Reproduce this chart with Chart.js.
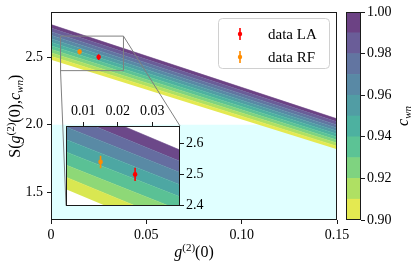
<!DOCTYPE html>
<html>
<head>
<meta charset="utf-8">
<script src="https://cdn.jsdelivr.net/npm/chart.js@4.4.1/dist/chart.umd.min.js"></script>
<style>
  html, body { margin: 0; padding: 0; background: #fff; }
  #wrap { position: relative; width: 415px; height: 267px; overflow: hidden; }
  canvas { position: absolute; }
</style>
</head>
<body>
<div id="wrap">
  <canvas id="main" width="415" height="267" style="left:0;top:0"></canvas>
  <canvas id="inset" width="160" height="116" style="left:56px;top:100px"></canvas>
  <canvas id="cbar" width="70" height="267" style="left:345px;top:0"></canvas>
</div>
<script>
  'use strict';

  // contour levels of c_wn and the S value of each level line at both ends of g2
  var cLevels = [0.90, 0.91, 0.92, 0.93, 0.94, 0.95, 0.96, 0.97, 0.98, 0.99, 1.00];
  var gEnds = [0, 0.15];
  var sAtStart = [2.480, 2.506, 2.532, 2.558, 2.584, 2.610, 2.636, 2.662, 2.688, 2.714, 2.740];
  var sAtEnd = [1.820, 1.842, 1.865, 1.887, 1.910, 1.932, 1.954, 1.977, 1.999, 2.022, 2.044];

  // inset contour lines (coarser levels), S at both ends of the inset g2 range
  var insetGEnds = [0.005, 0.038];
  var insetSStart = [2.452, 2.491, 2.530, 2.572, 2.612, 2.652, 2.692, 2.732];
  var insetSEnd = [2.300, 2.340, 2.385, 2.428, 2.467, 2.506, 2.542, 2.578];

  // measured points
  var pointLabels = ['data LA', 'data RF'];
  var pointG = [0.0250, 0.0150];
  var pointS = [2.500, 2.540];
  var pointErr = [0.021, 0.020];

  // classical bound region
  var boundS = 2.0;

  // zoom window
  var zoomG = [0.005, 0.038];
  var zoomS = [2.400, 2.655];

  var xTicks = [0, 0.05, 0.10, 0.15];
  var yTicks = [1.5, 2.0, 2.5];
  var insetXTicks = [0.01, 0.02, 0.03];
  var insetYTicks = [2.4, 2.5, 2.6];
  var cbarTicks = [0.90, 0.92, 0.94, 0.96, 0.98, 1.00];

  // lowest level first (yellow) up to the highest (purple)
  var bandColors = ['#e4e951', '#afe063', '#7fd380', '#5cc395', '#4db1a0',
                    '#519da4', '#5989a5', '#6275a1', '#6a5d98', '#6c4284'];
  var insetColors = ['#d9e751', '#8ed877', '#5ac195', '#4da7a3', '#598aa5', '#656da0', '#6c4889'];
  var pointColors = ['#ff0000', '#ff8c00'];

  var FONT = '"Liberation Serif", "DejaVu Serif", serif';
  var INSET_LEFT = 56, INSET_TOP = 100;

  function fixedTicks(list) {
    return function(scale) {
      scale.ticks = list.map(function(v) { return { value: v }; });
    };
  }

  function mathFont(p, size) {
    return (p.it ? 'italic ' : '') + Math.round(size * (p.sc || 1)) + 'px ' + FONT;
  }

  function drawMath(ctx, parts, x, y, rot, size) {
    var widths = [];
    var total = 0;
    ctx.save();
    ctx.translate(x, y);
    if (rot) ctx.rotate(rot);
    ctx.fillStyle = '#000';
    ctx.textBaseline = 'alphabetic';
    parts.forEach(function(p) {
      ctx.font = mathFont(p, size);
      var w = ctx.measureText(p.t).width;
      widths.push(w);
      total += w;
    });
    var cx = -total / 2;
    parts.forEach(function(p, i) {
      ctx.font = mathFont(p, size);
      ctx.fillText(p.t, cx, (p.dy || 0) * size);
      cx += widths[i];
    });
    ctx.restore();
  }

  var framePlugin = {
    id: 'frame',
    afterDatasetsDraw: function(chart) {
      var a = chart.chartArea;
      var ctx = chart.ctx;
      var l = Math.round(a.left) + 0.5, t = Math.round(a.top) + 0.5;
      var r = Math.round(a.right) - 0.5, b = Math.round(a.bottom) - 0.5;
      ctx.save();
      ctx.strokeStyle = '#1a1a1a';
      ctx.lineWidth = 1;
      ctx.strokeRect(l, t, r - l, b - t);
      ctx.restore();
    }
  };

  function axisStyle(extra) {
    var base = {
      type: 'linear',
      border: { display: false },
      grid: { drawOnChartArea: false, drawTicks: true, tickLength: 4, color: '#1a1a1a', lineWidth: 1 },
      ticks: { color: '#000', font: { family: FONT, size: 14 }, padding: 3, autoSkip: false, maxRotation: 0 }
    };
    Object.keys(extra).forEach(function(k) {
      if (k === 'ticks') {
        Object.keys(extra.ticks).forEach(function(t) { base.ticks[t] = extra.ticks[t]; });
      } else {
        base[k] = extra[k];
      }
    });
    return base;
  }

  function levelLines(gs, startVals, endVals, colors) {
    var sets = [];
    for (var i = 0; i < startVals.length; i++) {
      var col = i === 0 ? 'rgba(0,0,0,0)' : colors[i - 1];
      sets.push({
        data: [{ x: gs[0], y: startVals[i] }, { x: gs[1], y: endVals[i] }],
        borderColor: col,
        borderWidth: i === 0 ? 0 : 0.6,
        backgroundColor: col,
        fill: i === 0 ? false : '-1',
        pointRadius: 0,
        tension: 0,
        order: 50,
        clip: 0
      });
    }
    return sets;
  }

  function pointSets() {
    var sets = [];
    for (var i = 0; i < pointG.length; i++) {
      sets.push({
        label: pointLabels[i],
        data: [{ x: pointG[i], y: pointS[i] - pointErr[i] }, { x: pointG[i], y: pointS[i] + pointErr[i] }],
        borderColor: pointColors[i],
        borderWidth: 1.6,
        pointRadius: 0,
        fill: false,
        order: 10
      });
      sets.push({
        data: [{ x: pointG[i], y: pointS[i] }],
        showLine: false,
        pointRadius: 2.3,
        pointBorderWidth: 0,
        pointBackgroundColor: pointColors[i],
        order: 5
      });
    }
    return sets;
  }

  // ---------- inset ----------
  var insetChart = new Chart(document.getElementById('inset'), {
    type: 'line',
    data: { datasets: levelLines(insetGEnds, insetSStart, insetSEnd, insetColors).concat(pointSets()) },
    options: {
      responsive: false,
      animation: false,
      events: [],
      layout: { padding: { left: 10, right: 0, top: 0, bottom: 6 } },
      plugins: { legend: { display: false }, tooltip: { enabled: false } },
      scales: {
        x: axisStyle({
          position: 'top', min: zoomG[0], max: zoomG[1],
          afterBuildTicks: fixedTicks(insetXTicks),
          afterFit: function(s) { s.height = 26; },
          ticks: { padding: 2, callback: function(v) { return v.toFixed(2); } }
        }),
        y: axisStyle({
          position: 'right', min: zoomS[0], max: zoomS[1],
          afterBuildTicks: fixedTicks(insetYTicks),
          afterFit: function(s) { s.width = 36; },
          ticks: { padding: 2, callback: function(v) { return v.toFixed(1); } }
        })
      }
    },
    plugins: [{
      id: 'insetBg',
      beforeDatasetsDraw: function(chart) {
        var a = chart.chartArea;
        chart.ctx.save();
        chart.ctx.fillStyle = '#ffffff';
        chart.ctx.fillRect(a.left, a.top, a.right - a.left, a.bottom - a.top);
        chart.ctx.restore();
      }
    }, framePlugin]
  });

  // ---------- main ----------
  var mainSets = [{
    data: [{ x: gEnds[0], y: boundS }, { x: gEnds[1], y: boundS }],
    borderWidth: 0,
    borderColor: 'rgba(0,0,0,0)',
    backgroundColor: '#e0ffff',
    fill: 'start',
    pointRadius: 0,
    order: 100
  }];
  mainSets = mainSets.concat(levelLines(gEnds, sAtStart, sAtEnd, bandColors));
  mainSets.push({
    data: [
      { x: zoomG[0], y: zoomS[0] }, { x: zoomG[1], y: zoomS[0] }, { x: zoomG[1], y: zoomS[1] },
      { x: zoomG[0], y: zoomS[1] }, { x: zoomG[0], y: zoomS[0] }
    ],
    borderColor: '#808080',
    borderWidth: 1,
    pointRadius: 0,
    fill: false,
    order: 20
  });
  mainSets = mainSets.concat(pointSets());

  new Chart(document.getElementById('main'), {
    type: 'line',
    data: { datasets: mainSets },
    options: {
      responsive: false,
      animation: false,
      events: [],
      layout: { padding: { left: 0, right: 78, top: 12, bottom: 0 } },
      plugins: { legend: { display: false }, tooltip: { enabled: false } },
      scales: {
        x: axisStyle({
          min: gEnds[0], max: gEnds[1],
          afterBuildTicks: fixedTicks(xTicks),
          afterFit: function(s) { s.height = 47; },
          ticks: { callback: function(v) { return v === 0 ? '0' : v.toFixed(2); } }
        }),
        y: axisStyle({
          min: 1.297, max: 2.83,
          afterBuildTicks: fixedTicks(yTicks),
          afterFit: function(s) { s.width = 51; },
          ticks: { padding: 4, callback: function(v) { return v.toFixed(1); } }
        })
      }
    },
    plugins: [framePlugin, {
      id: 'extras',
      afterDraw: function(chart) {
        var ctx = chart.ctx;
        var xs = chart.scales.x, ys = chart.scales.y;
        var ia = insetChart.chartArea;

        // connectors from zoom box to inset corners
        ctx.save();
        ctx.strokeStyle = '#808080';
        ctx.lineWidth = 1;
        ctx.beginPath();
        ctx.moveTo(xs.getPixelForValue(zoomG[0]), ys.getPixelForValue(zoomS[0]));
        ctx.lineTo(INSET_LEFT + ia.left, INSET_TOP + ia.bottom);
        ctx.moveTo(xs.getPixelForValue(zoomG[1]), ys.getPixelForValue(zoomS[1]));
        ctx.lineTo(INSET_LEFT + ia.right, INSET_TOP + ia.top);
        ctx.stroke();
        ctx.restore();

        // legend
        var bx = 218.5, by = 18.5, bw = 111, bh = 50, r = 4;
        ctx.save();
        ctx.beginPath();
        ctx.moveTo(bx + r, by);
        ctx.arcTo(bx + bw, by, bx + bw, by + bh, r);
        ctx.arcTo(bx + bw, by + bh, bx, by + bh, r);
        ctx.arcTo(bx, by + bh, bx, by, r);
        ctx.arcTo(bx, by, bx + bw, by, r);
        ctx.closePath();
        ctx.fillStyle = 'rgba(255,255,255,0.8)';
        ctx.fill();
        ctx.strokeStyle = '#d0d0d0';
        ctx.lineWidth = 1;
        ctx.stroke();
        for (var i = 0; i < pointLabels.length; i++) {
          var cy = 34 + i * 23;
          ctx.strokeStyle = pointColors[i];
          ctx.lineWidth = 1.6;
          ctx.beginPath();
          ctx.moveTo(240, cy - 6);
          ctx.lineTo(240, cy + 6);
          ctx.stroke();
          ctx.fillStyle = pointColors[i];
          ctx.beginPath();
          ctx.arc(240, cy, 2.2, 0, Math.PI * 2);
          ctx.fill();
          ctx.fillStyle = '#000';
          ctx.font = '15px ' + FONT;
          ctx.textBaseline = 'alphabetic';
          ctx.fillText(pointLabels[i], 268, cy + 5);
        }
        ctx.restore();

        // axis titles
        drawMath(ctx, [{ t: 'g', it: 1 }, { t: '(2)', sc: 0.7, dy: -0.4 }, { t: '(0)' }],
          (chart.chartArea.left + chart.chartArea.right) / 2, 257, 0, 16);
        drawMath(ctx, [
          { t: 'S(' }, { t: 'g', it: 1 }, { t: '(2)', sc: 0.7, dy: -0.4 }, { t: '(0),' },
          { t: 'c', it: 1 }, { t: 'wn', it: 1, sc: 0.7, dy: 0.2 }, { t: ')' }
        ], 20, (chart.chartArea.top + chart.chartArea.bottom) / 2, -Math.PI / 2, 16);
      }
    }]
  });

  // ---------- colorbar ----------
  var cbarSets = [];
  for (var k = 0; k < bandColors.length; k++) {
    cbarSets.push({
      data: [[cLevels[k], cLevels[k + 1]]],
      backgroundColor: bandColors[k],
      borderWidth: 0,
      barPercentage: 1,
      categoryPercentage: 1
    });
  }

  new Chart(document.getElementById('cbar'), {
    type: 'bar',
    data: { labels: [''], datasets: cbarSets },
    options: {
      responsive: false,
      animation: false,
      events: [],
      layout: { padding: { left: 1, right: 0, top: 12, bottom: 47 } },
      plugins: { legend: { display: false }, tooltip: { enabled: false } },
      scales: {
        x: { stacked: true, display: false },
        y: axisStyle({
          position: 'right', min: cLevels[0], max: cLevels[cLevels.length - 1],
          afterBuildTicks: fixedTicks(cbarTicks),
          afterFit: function(s) { s.width = 54; },
          ticks: { padding: 2, callback: function(v) { return v.toFixed(2); } }
        })
      }
    },
    plugins: [framePlugin, {
      id: 'cbarTitle',
      afterDraw: function(chart) {
        drawMath(chart.ctx, [{ t: 'c', it: 1 }, { t: 'wn', it: 1, sc: 0.7, dy: 0.2 }],
          63, (chart.chartArea.top + chart.chartArea.bottom) / 2, -Math.PI / 2, 16);
      }
    }]
  });
</script>
</body>
</html>
